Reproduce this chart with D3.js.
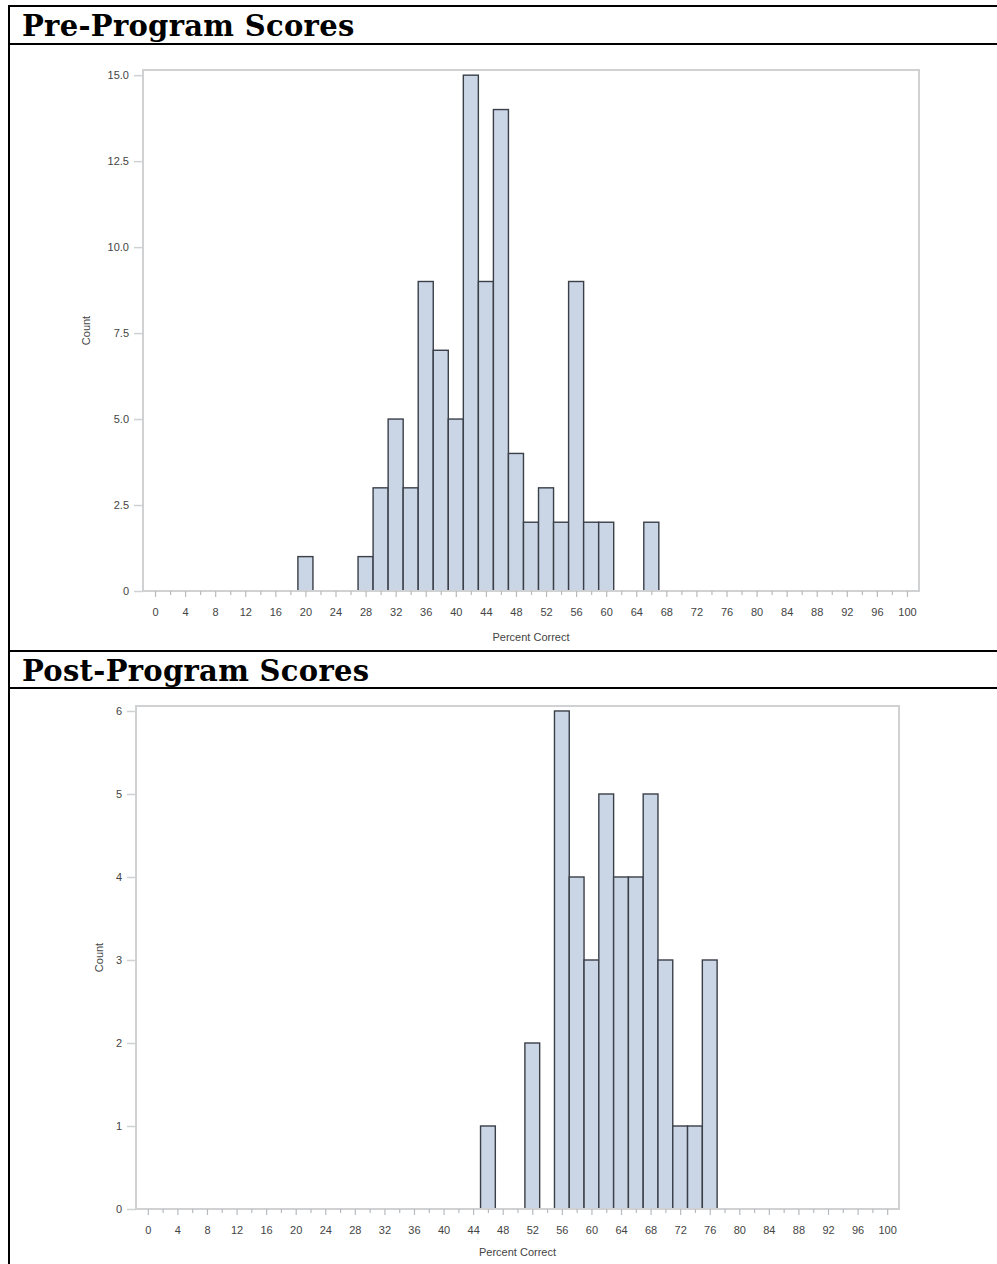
<!DOCTYPE html>
<html>
<head>
<meta charset="utf-8">
<script src="https://cdn.jsdelivr.net/npm/d3@7"></script>
<style>
  html, body { margin: 0; padding: 0; background: #fff; }
  svg { display: block; }
</style>
</head>
<body>
<svg id="chart" width="997" height="1264"></svg>
<script>
// ---- Data ----
const titles = ["Pre-Program Scores", "Post-Program Scores"];
const preMidpoints = [20, 28, 30, 32, 34, 36, 38, 40, 42, 44, 46, 48, 50, 52, 54, 56, 58, 60, 66];
const preCounts    = [1, 1, 3, 5, 3, 9, 7, 5, 15, 9, 14, 4, 2, 3, 2, 9, 2, 2, 2];
const postMidpoints = [46, 52, 56, 58, 60, 62, 64, 66, 68, 70, 72, 74, 76];
const postCounts    = [1, 2, 6, 4, 3, 5, 4, 4, 5, 3, 1, 1, 3];
const binWidth = 2;
const xTickLabels = [0,4,8,12,16,20,24,28,32,36,40,44,48,52,56,60,64,68,72,76,80,84,88,92,96,100];
const xMinorTicks = [2,6,10,14,18,22,26,30,34,38,42,46,50,54,58,62,66,70,74,78,82,86,90,94,98];
const preYTicks = [0, 2.5, 5, 7.5, 10, 12.5, 15];
const postYTicks = [0, 1, 2, 3, 4, 5, 6];
const xLabel = "Percent Correct";
const yLabel = "Count";

const svg = d3.select("#chart");

// ---- Table borders ----
const border = svg.append("g").attr("stroke", "#000").attr("stroke-width", 2);
[6, 44, 651, 688].forEach(y => {
  border.append("line").attr("x1", 8).attr("x2", 997).attr("y1", y).attr("y2", y);
});
border.append("line").attr("x1", 9).attr("x2", 9).attr("y1", 5).attr("y2", 1264);

// Titles
[[titles[0], 36], [titles[1], 681]].forEach(([t, yy]) => {
  svg.append("text").attr("x", 22).attr("y", yy)
    .attr("font-family", "DejaVu Serif").attr("font-weight", "bold").attr("font-size", 29)
    .attr("letter-spacing", 0.3)
    .attr("fill", "#000").text(t);
});

function drawPanel(opts) {
  const { mids, counts, yTicks, yFmt, left, right, top, bottom, yMax, yLabelX, xLabelY } = opts;
  const g = svg.append("g");
  const x = d3.scaleLinear().domain([-1.6, 101.6]).range([left, right]);
  const y = d3.scaleLinear().domain([0, yMax]).range([bottom, top]);

  // bars
  const data = mids.map((m, i) => ({ x0: m - binWidth / 2, x1: m + binWidth / 2, c: counts[i] }));
  g.append("g").selectAll("rect").data(data).join("rect")
    .attr("x", d => x(d.x0))
    .attr("width", d => x(d.x1) - x(d.x0))
    .attr("y", d => y(d.c))
    .attr("height", d => y(0) - y(d.c))
    .attr("fill", "#cad5e5")
    .attr("stroke", "#3a3f48")
    .attr("stroke-width", 1.4);

  // frame
  g.append("rect")
    .attr("x", left).attr("y", top)
    .attr("width", right - left).attr("height", bottom - top)
    .attr("fill", "none").attr("stroke", "#cfd1d3").attr("stroke-width", 2);

  // y axis
  const yAxis = d3.axisLeft(y).tickValues(yTicks).tickFormat(yFmt).tickSize(9).tickPadding(5);
  const ya = g.append("g").attr("transform", `translate(${left},0)`).call(yAxis);
  ya.select(".domain").remove();
  ya.selectAll(".tick line").attr("stroke", "#cfd1d3").attr("stroke-width", 1.5);
  ya.selectAll(".tick text").attr("font-family", "Liberation Sans, Arial, sans-serif")
    .attr("font-size", 11).attr("fill", "#444");

  // x axis
  const xAxis = d3.axisBottom(x).tickValues(xTickLabels).tickFormat(d3.format("d")).tickSize(6).tickPadding(11);
  const xa = g.append("g").attr("transform", `translate(0,${bottom})`).call(xAxis);
  xa.select(".domain").remove();
  xa.selectAll(".tick line").attr("stroke", "#b8babd").attr("stroke-width", 1.2);
  xa.selectAll(".tick text").attr("font-family", "Liberation Sans, Arial, sans-serif")
    .attr("font-size", 11).attr("fill", "#444");
  const xm = d3.axisBottom(x).tickValues(xMinorTicks).tickFormat("").tickSize(4);
  const xma = g.append("g").attr("transform", `translate(0,${bottom})`).call(xm);
  xma.select(".domain").remove();
  xma.selectAll(".tick line").attr("stroke", "#b8babd").attr("stroke-width", 1.2);

  // axis labels
  g.append("text")
    .attr("x", (left + right) / 2).attr("y", xLabelY)
    .attr("text-anchor", "middle")
    .attr("font-family", "Liberation Sans, Arial, sans-serif").attr("font-size", 11)
    .attr("fill", "#444").text(xLabel);
  g.append("text")
    .attr("transform", `translate(${yLabelX},${(top + bottom) / 2}) rotate(-90)`)
    .attr("text-anchor", "middle")
    .attr("font-family", "Liberation Sans, Arial, sans-serif").attr("font-size", 11)
    .attr("fill", "#444").text(yLabel);
}

drawPanel({
  mids: preMidpoints, counts: preCounts, yTicks: preYTicks,
  yFmt: d => d === 0 ? "0" : d3.format(".1f")(d),
  left: 143, right: 919, top: 70, bottom: 591, yMax: 15.15,
  yLabelX: 90, xLabelY: 641
});
drawPanel({
  mids: postMidpoints, counts: postCounts, yTicks: postYTicks,
  yFmt: d3.format("d"),
  left: 136, right: 899, top: 706, bottom: 1209, yMax: 6.06,
  yLabelX: 103, xLabelY: 1256
});
</script>
</body>
</html>
